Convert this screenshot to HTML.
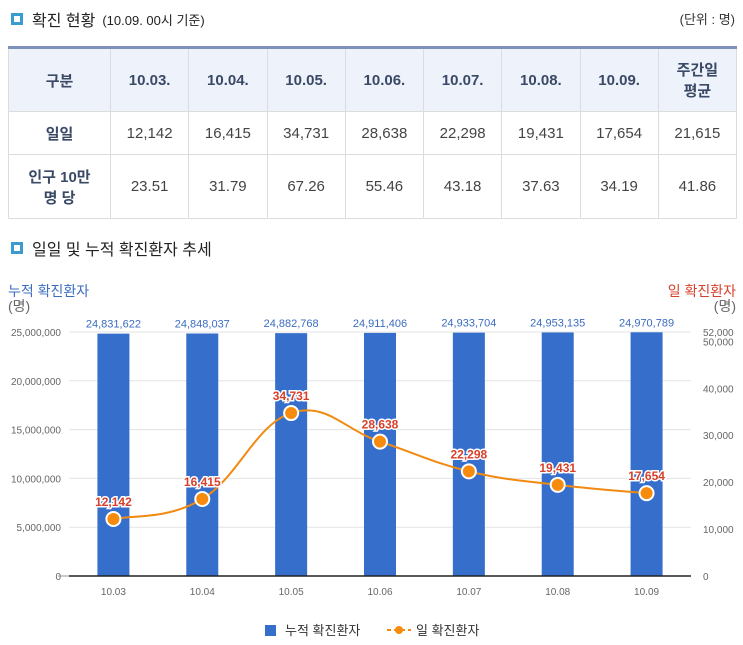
<!DOCTYPE html>
<html><head><meta charset="utf-8">
<style>
body{margin:0;width:743px;height:645px;background:#fff;font-family:"Liberation Sans","Noto Sans CJK KR",sans-serif;color:#333;position:relative;overflow:hidden}
.ttl{position:absolute;left:11px;font-size:16px;color:#222;display:flex;align-items:center}
.sq{width:6px;height:6px;border:3px solid #3a9bd0;background:#fff;margin-right:9px}
table{position:absolute;left:8px;top:46px;width:729px;border-collapse:collapse;font-size:15px;table-layout:fixed;border:1px solid #dcdcdc}
td,th{border:1px solid #dcdcdc;text-align:center;color:#444;font-weight:normal;padding:0}
tr.h th{background:#eef2fa;color:#3a4a66;font-weight:bold;height:62px}
table{border-top:3px solid #7d91bb}
tr td:first-child{color:#3a4a66;font-weight:bold}
</style></head><body>
<div class="ttl" style="top:7px"><span class="sq"></span>확진 현황<span style="font-size:13px;margin-left:7px">(10.09. 00시 기준)</span></div>
<div style="position:absolute;right:8px;top:9px;font-size:13px">(단위 : 명)</div>
<table>
<colgroup><col style="width:102px"><col><col><col><col><col><col><col><col></colgroup>
<tr class="h"><th>구분</th><th>10.03.</th><th>10.04.</th><th>10.05.</th><th>10.06.</th><th>10.07.</th><th>10.08.</th><th>10.09.</th><th>주간일<br>평균</th></tr>
<tr style="height:43px"><td>일일</td><td>12,142</td><td>16,415</td><td>34,731</td><td>28,638</td><td>22,298</td><td>19,431</td><td>17,654</td><td>21,615</td></tr>
<tr style="height:64px"><td>인구 10만<br>명 당</td><td>23.51</td><td>31.79</td><td>67.26</td><td>55.46</td><td>43.18</td><td>37.63</td><td>34.19</td><td>41.86</td></tr>
</table>
<div class="ttl" style="top:236px"><span class="sq"></span>일일 및 누적 확진환자 추세</div>
<svg id="ch" width="743" height="645" style="position:absolute;left:0;top:0"></svg>
<script>
const categories=["10.03","10.04","10.05","10.06","10.07","10.08","10.09"];
const cumulative=[24831622,24848037,24882768,24911406,24933704,24953135,24970789];
const daily=[12142,16415,34731,28638,22298,19431,17654];
const leftTicks=[0,5000000,10000000,15000000,20000000,25000000];
const rightTicks=[0,10000,20000,30000,40000,50000,52000];
const NS="http://www.w3.org/2000/svg",svg=document.getElementById('ch');
const X0=69,X1=691,Y0=576,Y1=332,LMAX=25000000,RMAX=52000;
const band=(X1-X0)/categories.length;
const xc=i=>X0+band*(i+0.5);
const yl=v=>Y0-Math.min(v,LMAX)/LMAX*(Y0-Y1);
const yr=v=>Y0-v/RMAX*(Y0-Y1);
const fmt=v=>v.toLocaleString('en-US');
function mk(t,a,p){const e=document.createElementNS(NS,t);for(const k in a)e.setAttribute(k,a[k]);(p||svg).appendChild(e);return e;}
function txt(s,a){const e=mk('text',a);e.textContent=s;return e;}
leftTicks.forEach(v=>{
 if(v>0){const g=mk('line',{x1:X0,x2:X1,y1:yl(v),y2:yl(v),stroke:'#e3e3e3'});
 
 }
 const t=txt(fmt(v),{x:61,y:yl(v)+4,'text-anchor':'end','font-size':10,fill:'#666'});
 
 
});
mk('line',{x1:58,x2:X0,y1:Y0,y2:Y0,stroke:'#999'});
rightTicks.forEach(v=>{
 const t=txt(fmt(v),{x:703,y:yr(v)+4,'font-size':10,fill:'#666'});
 
 
});
categories.forEach((c,i)=>{
 const b=mk('rect',{x:xc(i)-16,y:yl(cumulative[i]),width:32,height:Y0-yl(cumulative[i]),fill:'#356fcb'});
 
 
 const l=txt(fmt(cumulative[i]),{x:xc(i),y:yl(cumulative[i])-6,'text-anchor':'middle','font-size':11,fill:'#3a6cc0'});
 
 
 const t=txt(c,{x:xc(i),y:595,'text-anchor':'middle','font-size':10,fill:'#666'});
 
 
});
mk('line',{x1:X0,x2:X1,y1:Y0,y2:Y0,stroke:'#222','stroke-width':1.5});
const pts=daily.map((v,i)=>[xc(i),yr(v)]);
let d=`M${pts[0][0]},${pts[0][1]}`;
for(let i=0;i<pts.length-1;i++){
 const p0=pts[Math.max(0,i-1)],p1=pts[i],p2=pts[i+1],p3=pts[Math.min(pts.length-1,i+2)];
 const k=0.2;
 d+=` C${p1[0]+(p2[0]-p0[0])*k},${p1[1]+(p2[1]-p0[1])*k} ${p2[0]-(p3[0]-p1[0])*k},${p2[1]-(p3[1]-p1[1])*k} ${p2[0]},${p2[1]}`;
}
const ln=mk('path',{d:d,fill:'none',stroke:'#f08a10','stroke-width':2});


pts.forEach((p,i)=>{
 const c=mk('circle',{cx:p[0],cy:p[1],r:7,fill:'#f68b0e',stroke:'#fff','stroke-width':2});
 
 
 const t=txt(fmt(daily[i]),{x:p[0],y:p[1]-13,'text-anchor':'middle','font-size':12,'font-weight':'bold',fill:'#d7402a',stroke:'#fff','stroke-width':3,'paint-order':'stroke'});
 
 
});
const a1=txt('누적 확진환자',{x:8,y:296,'font-size':14,fill:'#3a6cc0'});


const a2=txt('(명)',{x:8,y:311,'font-size':14,fill:'#666'});


const a3=txt('일 확진환자',{x:736,y:296,'text-anchor':'end','font-size':14,fill:'#d7402a'});


const a4=txt('(명)',{x:736,y:311,'text-anchor':'end','font-size':14,fill:'#666'});


const lg1=mk('rect',{x:265,y:625,width:11,height:11,fill:'#356fcb'});


const lt1=txt('누적 확진환자',{x:285,y:635,'font-size':13,fill:'#333'});


const lg2=mk('line',{x1:387,x2:411,y1:630,y2:630,stroke:'#f08a10','stroke-width':2,'stroke-dasharray':'4,3'});


mk('circle',{cx:399,cy:630,r:4,fill:'#f68b0e'});
const lt2=txt('일 확진환자',{x:416,y:635,'font-size':13,fill:'#333'});


</script>
</body></html>
